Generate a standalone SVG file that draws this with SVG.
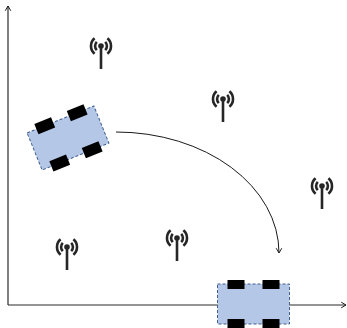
<svg xmlns="http://www.w3.org/2000/svg" xmlns:xlink="http://www.w3.org/1999/xlink" width="347" height="328" viewBox="0 0 347 328">
  <style>
    .axis { stroke: #2b2b2b; stroke-width: 1.2; fill: none; }
    .path { stroke: #1a1a1a; stroke-width: 1; fill: none; }
    .body { fill: #b4c7e7; stroke: #3f5f8f; stroke-width: 1; stroke-dasharray: 3 2; }
    .wheel { fill: #000; }
    .ant { stroke: #262626; fill: none; stroke-width: 2.6; stroke-linecap: butt; }
    .ant-dot { fill: #262626; }
  </style>
  <defs>
    <marker id="open-arrow" viewBox="0 0 10 10" refX="8" refY="5" markerWidth="8" markerHeight="8" markerUnits="userSpaceOnUse" orient="auto">
      <path d="M2,1.5 L8,5 L2,8.5" fill="none" stroke="#1a1a1a" stroke-width="1.2"/>
    </marker>
    <!-- vehicle body seen from above, centred on its origin -->
    <rect id="car-body" class="body" x="-36" y="-20" width="72" height="40"/>
    <!-- radio beacon, origin at the centre dot -->
    <g id="beacon">
      <path class="ant" d="M-6.4,-7.7 A10,10 0 0 0 -6.4,7.7 M6.4,-7.7 A10,10 0 0 1 6.4,7.7"/>
      <path class="ant" d="M-4.2,-4.2 A6,6 0 0 0 -4.2,4.2 M4.2,-4.2 A6,6 0 0 1 4.2,4.2"/>
      <circle class="ant-dot" cx="0" cy="0" r="2.8"/>
      <line class="ant" x1="0" y1="2" x2="0" y2="23" stroke-width="2"/>
    </g>
  </defs>

  <g id="connectors">
    <line class="axis" x1="8" y1="305" x2="8" y2="6" marker-end="url(#open-arrow)"/>
    <line class="axis" x1="8" y1="305" x2="346" y2="305" marker-end="url(#open-arrow)"/>
    <path class="path" d="M116,132 A163,121 0 0 1 279,253" marker-end="url(#open-arrow)"/>
  </g>

  <g id="beacon-1"><use xlink:href="#beacon" href="#beacon" transform="translate(101,46)"/></g>
  <g id="beacon-2"><use xlink:href="#beacon" href="#beacon" transform="translate(223,99)"/></g>
  <g id="beacon-3"><use xlink:href="#beacon" href="#beacon" transform="translate(322,186)"/></g>
  <g id="beacon-4"><use xlink:href="#beacon" href="#beacon" transform="translate(67,247)"/></g>
  <g id="beacon-5"><use xlink:href="#beacon" href="#beacon" transform="translate(177,238)"/></g>

  <g id="car-start" transform="translate(68,138) rotate(-22)">
    <use xlink:href="#car-body" href="#car-body"/>
    <rect class="wheel" x="-26" y="-25.5" width="18" height="11"/>
    <rect class="wheel" x="9" y="-25.5" width="18" height="11"/>
    <rect class="wheel" x="-26" y="14.5" width="18" height="11"/>
    <rect class="wheel" x="9" y="14.5" width="18" height="11"/>
  </g>
  <g id="car-end" transform="translate(253.5,304)">
    <use xlink:href="#car-body" href="#car-body"/>
    <rect class="wheel" x="-26" y="-24" width="17" height="9"/>
    <rect class="wheel" x="9" y="-24" width="17" height="9"/>
    <rect class="wheel" x="-26" y="15" width="17" height="9"/>
    <rect class="wheel" x="9" y="15" width="17" height="9"/>
  </g>
</svg>
